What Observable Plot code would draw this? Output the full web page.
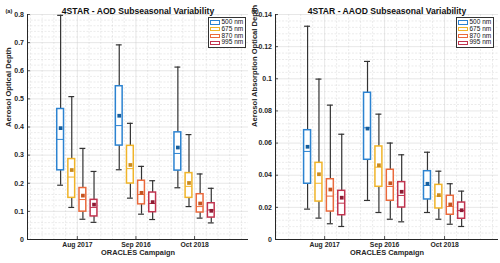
<!DOCTYPE html>
<html><head><meta charset="utf-8">
<script src="https://cdn.jsdelivr.net/npm/d3@7"></script>
<script src="https://cdn.jsdelivr.net/npm/@observablehq/plot@0.6"></script>
<style>
body{margin:0;background:#fff;}
#wrap{position:relative;width:500px;height:263px;font-family:"Liberation Sans",Arial,sans-serif;overflow:hidden;}
.panel{position:absolute;top:0;}
.legend{position:absolute;top:17px;border:1px solid #333;background:#fff;padding:1px 2px 1px 1px;font-size:6.5px;line-height:6.8px;color:#111;}
.legend .row{display:flex;align-items:center;white-space:nowrap;}
.legend .sw{display:inline-block;width:8px;height:2.5px;border:1.5px solid;margin-right:1.5px;background:#fff;}
</style></head>
<body><div id="wrap"></div>
<script>
const campaigns = ["Aug 2017", "Sep 2016", "Oct 2018"];
const wavelengths = ["500 nm", "675 nm", "870 nm", "995 nm"];
const edgeColors = ["#2c83d1", "#f0b429", "#ea6a3c", "#c1344f"];
const meanColors = ["#155d9c", "#c9891d", "#c4531f", "#8e1a33"];

// Panel (a) AOD — rows: campaigns, columns: wavelengths
const aodLow  = [[0.193,0.114,0.072,0.061],[0.248,0.147,0.090,0.071],[0.184,0.117,0.076,0.059]];
const aodQ1   = [[0.246,0.148,0.099,0.082],[0.334,0.199,0.125,0.097],[0.245,0.148,0.096,0.078]];
const aodMed  = [[0.356,0.222,0.142,0.114],[0.405,0.252,0.160,0.128],[0.306,0.189,0.117,0.105]];
const aodQ3   = [[0.464,0.286,0.183,0.141],[0.545,0.333,0.209,0.167],[0.381,0.236,0.161,0.129]];
const aodHigh = [[0.797,0.508,0.324,0.242],[0.692,0.413,0.260,0.209],[0.613,0.373,0.233,0.182]];
const aodMean = [[0.396,0.247,0.156,0.124],[0.440,0.265,0.166,0.133],[0.327,0.201,0.128,0.102]];

// Panel (b) AAOD
const aaodLow  = [[0.0189,0.0133,0.0098,0.0081],[0.0243,0.0168,0.0126,0.0110],[0.0168,0.0126,0.0095,0.0081]];
const aaodQ1   = [[0.0347,0.0236,0.0174,0.0151],[0.0496,0.0328,0.0241,0.0199],[0.0249,0.0193,0.0154,0.0129]];
const aaodMed  = [[0.0548,0.0350,0.0270,0.0226],[0.0695,0.0450,0.0330,0.0274],[0.0336,0.0270,0.0205,0.0180]];
const aaodQ3   = [[0.0680,0.0477,0.0375,0.0303],[0.0913,0.0579,0.0434,0.0357],[0.0425,0.0340,0.0272,0.0230]];
const aaodHigh = [[0.1327,0.0998,0.0836,0.0655],[0.1108,0.0780,0.0600,0.0527],[0.0543,0.0425,0.0347,0.0301]];
const aaodMean = [[0.0577,0.0406,0.0311,0.0260],[0.0690,0.0462,0.0350,0.0297],[0.0347,0.0276,0.0218,0.0182]];

const aodTicks = [0,0.1,0.2,0.3,0.4,0.5,0.6,0.7,0.8];
const aaodTicks = [0,0.02,0.04,0.06,0.08,0.1,0.12,0.14];

const FONT = '"Liberation Sans", Arial, sans-serif';
const STEP = 0.19, HALF = 0.058, CAP = 0.05;

function makePanel(o) {
  const rows = [];
  campaigns.forEach((c, i) => wavelengths.forEach((w, j) => rows.push({
    c, w, j, pos: i + 1 + (j - 1.5) * STEP,
    low: o.low[i][j], q1: o.q1[i][j], med: o.med[i][j], q3: o.q3[i][j], high: o.high[i][j], mean: o.mean[i][j]
  })));
  const yMax = o.ticks[o.ticks.length - 1];
  const yStep = o.ticks[1] - o.ticks[0];
  const minorY = d3.range(0, yMax + 1e-9, yStep / 5).filter(v => !o.ticks.some(t => Math.abs(t - v) < 1e-9));
  const minorX = d3.range(0.2, o.xDomain[1], 0.2).filter(v => v > o.xDomain[0] && Math.abs(v - Math.round(v)) > 1e-6);
  const fmt = d => String(+d.toFixed(4));
  const marks = [
    Plot.gridY(minorY, {stroke: "#bbb", strokeOpacity: 0.6, strokeDasharray: "2,1.5", strokeWidth: 0.5}),
    Plot.gridX(minorX, {stroke: "#bbb", strokeOpacity: 0.6, strokeDasharray: "2,1.5", strokeWidth: 0.5}),
    Plot.gridY(o.ticks.slice(1), {stroke: "#ccc", strokeOpacity: 0.8, strokeWidth: 0.6}),
    Plot.gridX([1, 2, 3], {stroke: "#ccc", strokeOpacity: 0.8, strokeWidth: 0.6}),
  ];
  wavelengths.forEach((w, j) => {
    const data = rows.filter(d => d.j === j);
    marks.push(
      Plot.ruleX(data, {x: "pos", y1: "low", y2: "high", stroke: "#333", strokeWidth: 1.2}),
      Plot.ruleY(data, {y: "high", x1: d => d.pos - CAP, x2: d => d.pos + CAP, stroke: "#333", strokeWidth: 1.2}),
      Plot.ruleY(data, {y: "low", x1: d => d.pos - CAP, x2: d => d.pos + CAP, stroke: "#333", strokeWidth: 1.2}),
      Plot.rect(data, {x1: d => d.pos - HALF, x2: d => d.pos + HALF, y1: "q1", y2: "q3", fill: "white", stroke: edgeColors[j], strokeWidth: 1.5}),
      Plot.ruleY(data, {y: "med", x1: d => d.pos - HALF, x2: d => d.pos + HALF, stroke: edgeColors[j], strokeWidth: 1}),
      Plot.dot(data, {x: "pos", y: "mean", symbol: "square", r: 2.1, fill: meanColors[j], stroke: null})
    );
  });
  marks.push(
    Plot.ruleY(o.ticks, {y: d => d, x1: o.xDomain[0], x2: o.xDomain[0] + 0.05, stroke: "#262626", strokeWidth: 0.8}),
    Plot.ruleX([1, 2, 3], {x: d => d, y1: 0, y2: yMax * 0.013, stroke: "#262626", strokeWidth: 0.8}),
    Plot.axisY({ticks: o.ticks, tickFormat: fmt, tickSize: 0, tickPadding: 3.5, fontSize: 7, fontWeight: "bold", fill: "#262626", label: null}),
    Plot.axisX({ticks: [1, 2, 3], tickFormat: i => campaigns[i - 1], tickSize: 0, tickPadding: 3, fontSize: 6.8, fontWeight: "bold", fill: "#262626", label: null}),
    Plot.ruleX([o.xDomain[0]], {stroke: "#262626", strokeWidth: 1}),
    Plot.ruleY([0], {stroke: "#262626", strokeWidth: 1}),
    Plot.text([o.title], {frameAnchor: "top", dy: -6.5, fontSize: 8.6, fontWeight: "bold", fill: "#111"}),
    Plot.text([o.ylabel], {frameAnchor: "left", rotate: -90, dx: o.ylabelDx, fontSize: 7.6, fontWeight: "bold", fill: "#262626"}),
    Plot.text(["ORACLES Campaign"], {frameAnchor: "bottom", dy: 15.6, fontSize: 7.4, fontWeight: "bold", fill: "#262626"}),
    Plot.text([o.tag], {frameAnchor: "top-left", dx: o.tagDx, dy: -5, fontSize: 5.5, fontWeight: "bold", fill: "#111", textAnchor: "start"})
  );
  return Plot.plot({
    width: 250, height: 263,
    marginLeft: o.marginLeft, marginRight: 2, marginTop: 14, marginBottom: 24,
    style: {fontFamily: FONT, background: "white", overflow: "visible"},
    x: {type: "linear", domain: o.xDomain},
    y: {type: "linear", domain: [0, yMax]},
    marks
  });
}

function makeLegend(left) {
  const div = document.createElement("div");
  div.className = "legend";
  div.style.left = left + "px";
  wavelengths.forEach((w, j) => {
    const r = document.createElement("div");
    r.className = "row";
    const s = document.createElement("span");
    s.className = "sw";
    s.style.borderColor = edgeColors[j];
    r.appendChild(s);
    r.appendChild(document.createTextNode(w));
    div.appendChild(r);
  });
  return div;
}

const wrap = document.getElementById("wrap");
const a = makePanel({low: aodLow, q1: aodQ1, med: aodMed, q3: aodQ3, high: aodHigh, mean: aodMean,
  ticks: aodTicks, xDomain: [0.15, 3.92], marginLeft: 27,
  title: "4STAR - AOD Subseasonal Variability", ylabel: "Aerosol Optical Depth", ylabelDx: -19,
  tag: "(a)", tagDx: -22});
a.classList.add("panel"); a.style.left = "0px";
const b = makePanel({low: aaodLow, q1: aaodQ1, med: aaodMed, q3: aaodQ3, high: aaodHigh, mean: aaodMean,
  ticks: aaodTicks, xDomain: [0.18, 3.9], marginLeft: 25,
  title: "4STAR - AAOD Subseasonal Variability", ylabel: "Aerosol Absorption Optical Depth", ylabelDx: -20.5,
  tag: "(b)", tagDx: -24});
b.classList.add("panel"); b.style.left = "250px";
wrap.appendChild(a);
wrap.appendChild(b);
wrap.appendChild(makeLegend(208));
wrap.appendChild(makeLegend(456));
</script>
</body></html>
